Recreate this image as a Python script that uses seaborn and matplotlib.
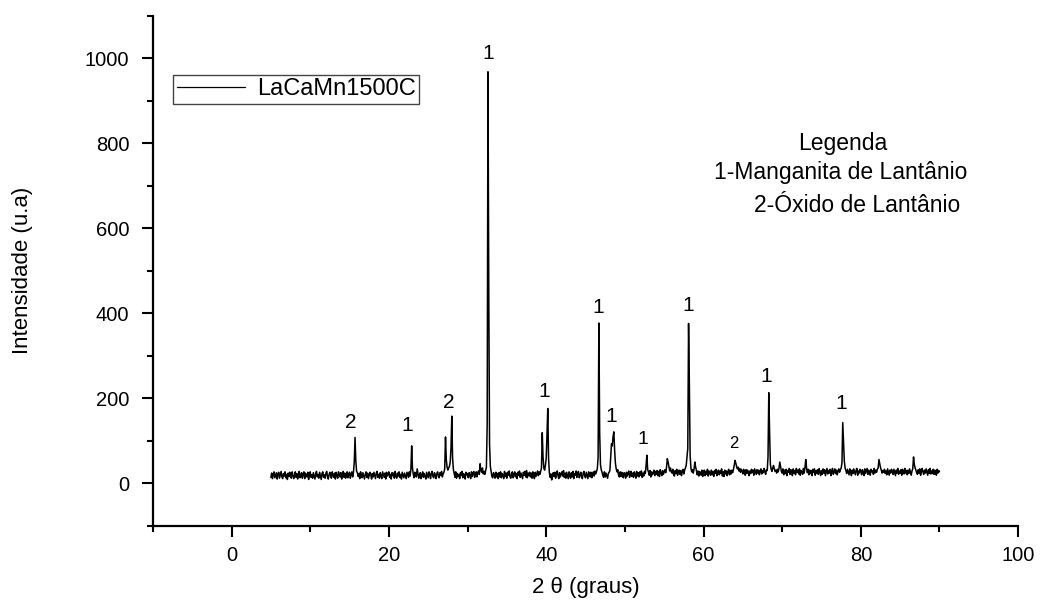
import numpy as np
import matplotlib
matplotlib.use("Agg")
import matplotlib.pyplot as plt
from matplotlib.ticker import MultipleLocator
import seaborn as sns

# --- XRD scan (2theta from 5 to 90 deg, step 0.1) ---
scan_start = 5.0
scan_step = 0.1
intensity = [
    14, 24, 11, 21, 27, 13, 19, 25, 10, 22,  # 5
    26, 12, 20, 28, 15, 11, 23, 17, 27, 13,  # 6
    21, 9, 24, 16, 26, 18, 12, 27, 20, 11,  # 7
    17, 27, 14, 23, 10, 20, 28, 13, 18, 25,  # 8
    12, 21, 27, 11, 24, 17, 15, 26, 9, 22,  # 9
    27, 14, 20, 12, 25, 18, 10, 23, 28, 15,  # 10
    21, 12, 26, 17, 9, 23, 27, 14, 20, 12,  # 11
    24, 28, 15, 10, 21, 26, 17, 12, 27, 19,  # 12
    14, 24, 10, 26, 18, 12, 27, 20, 15, 25,  # 13
    10, 21, 28, 14, 24, 12, 18, 27, 13, 22,  # 14
    26, 12, 21, 27, 15, 26, 50, 108, 52, 28,  # 15
    25, 16, 23, 11, 27, 19, 13, 25, 17, 10,  # 16
    21, 27, 14, 24, 11, 18, 26, 20, 10, 23,  # 17
    15, 26, 18, 11, 24, 28, 14, 21, 12, 25,  # 18
    17, 11, 27, 20, 14, 24, 10, 26, 17, 21,  # 19
    27, 14, 21, 10, 25, 18, 24, 12, 28, 16,  # 20
    12, 24, 17, 27, 14, 21, 10, 26, 19, 13,  # 21
    24, 17, 11, 26, 20, 14, 27, 17, 32, 88,  # 22
    36, 22, 13, 26, 18, 15, 34, 23, 12, 21,  # 23
    25, 11, 20, 27, 14, 23, 17, 10, 26, 19,  # 24
    13, 27, 20, 11, 24, 28, 16, 13, 25, 19,  # 25
    11, 23, 27, 16, 13, 25, 19, 28, 15, 22,  # 26
    26, 34, 109, 56, 38, 31, 36, 40, 50, 84,  # 27
    158, 60, 33, 24, 14, 27, 12, 23, 16, 21,  # 28
    11, 25, 18, 28, 13, 23, 17, 10, 26, 20,  # 29
    23, 13, 25, 19, 11, 27, 16, 24, 28, 14,  # 30
    20, 27, 15, 25, 29, 21, 46, 31, 26, 36,  # 31
    22, 28, 21, 30, 38, 140, 968, 452, 92, 40,  # 32
    28, 16, 13, 25, 20, 12, 26, 15, 23, 11,  # 33
    25, 15, 27, 13, 23, 19, 11, 28, 16, 24,  # 34
    12, 26, 19, 29, 15, 12, 23, 27, 13, 21,  # 35
    27, 15, 23, 11, 26, 19, 29, 14, 24, 17,  # 36
    11, 26, 19, 28, 15, 30, 13, 24, 18, 26,  # 37
    15, 24, 12, 27, 20, 11, 26, 16, 23, 29,  # 38
    18, 27, 21, 28, 36, 119, 62, 36, 31, 42,  # 39
    58, 112, 176, 60, 26, 14, 22, 8, 19, 25,  # 40
    16, 26, 12, 23, 29, 18, 11, 25, 15, 22,  # 41
    27, 17, 30, 14, 24, 12, 26, 19, 11, 27,  # 42
    18, 12, 25, 15, 28, 11, 23, 19, 29, 14,  # 43
    24, 28, 13, 19, 26, 15, 11, 24, 28, 17,  # 44
    13, 26, 19, 11, 27, 23, 15, 26, 13, 21,  # 45
    27, 17, 29, 22, 28, 34, 62, 377, 118, 44,  # 46
    32, 26, 19, 14, 27, 15, 24, 18, 12, 23,  # 47
    26, 30, 62, 93, 88, 110, 121, 78, 47, 34,  # 48
    27, 32, 19, 15, 27, 16, 26, 22, 13, 25,  # 49
    21, 12, 26, 17, 24, 29, 14, 22, 28, 16,  # 50
    24, 14, 27, 21, 12, 28, 17, 25, 15, 27,  # 51
    19, 29, 14, 24, 17, 28, 23, 42, 66, 32,  # 52
    27, 19, 30, 15, 27, 20, 24, 31, 18, 28,  # 53
    21, 30, 18, 28, 16, 32, 24, 18, 30, 21,  # 54
    27, 32, 25, 38, 58, 50, 40, 29, 36, 27,  # 55
    24, 33, 20, 17, 30, 23, 33, 19, 27, 31,  # 56
    21, 30, 18, 28, 33, 22, 31, 36, 42, 62,  # 57
    82, 376, 235, 64, 36, 27, 32, 24, 34, 50,  # 58
    38, 30, 20, 29, 17, 28, 24, 19, 31, 16,  # 59
    25, 31, 18, 28, 21, 33, 17, 29, 24, 19,  # 60
    31, 20, 27, 16, 30, 23, 33, 18, 27, 31,  # 61
    20, 29, 23, 34, 17, 27, 16, 31, 22, 29,  # 62
    18, 28, 33, 20, 30, 22, 31, 25, 32, 42,  # 63
    54, 48, 40, 34, 38, 29, 35, 26, 33, 28,  # 64
    22, 33, 27, 19, 32, 23, 31, 26, 18, 29,  # 65
    23, 33, 25, 31, 19, 34, 27, 21, 32, 24,  # 66
    31, 20, 28, 34, 22, 30, 25, 35, 27, 21,  # 67
    32, 30, 62, 213, 120, 44, 33, 28, 36, 42,  # 68
    34, 28, 31, 24, 33, 27, 36, 50, 39, 28,  # 69
    24, 34, 20, 31, 23, 33, 18, 30, 26, 35,  # 70
    21, 32, 27, 18, 34, 24, 30, 20, 35, 26,  # 71
    31, 22, 34, 19, 30, 27, 21, 35, 24, 38,  # 72
    56, 36, 25, 33, 20, 31, 23, 30, 18, 33,  # 73
    26, 34, 19, 30, 24, 32, 21, 35, 27, 18,  # 74
    30, 21, 34, 24, 32, 18, 27, 35, 22, 30,  # 75
    24, 33, 18, 29, 35, 21, 27, 34, 23, 31,  # 76
    20, 29, 34, 26, 32, 36, 48, 143, 100, 52,  # 77
    36, 30, 23, 33, 26, 20, 34, 28, 18, 31,  # 78
    23, 34, 27, 20, 31, 35, 19, 29, 24, 33,  # 79
    28, 20, 32, 26, 18, 34, 23, 29, 35, 21,  # 80
    31, 24, 19, 33, 27, 29, 21, 35, 24, 31,  # 81
    26, 33, 36, 56, 46, 37, 31, 24, 30, 26,  # 82
    33, 23, 29, 20, 34, 27, 19, 31, 24, 33,  # 83
    28, 21, 33, 26, 18, 31, 24, 35, 21, 29,  # 84
    24, 32, 19, 33, 27, 22, 35, 24, 30, 20,  # 85
    31, 23, 34, 27, 19, 29, 34, 62, 44, 36,  # 86
    31, 25, 21, 32, 24, 34, 19, 29, 35, 26,  # 87
    21, 31, 24, 34, 27, 19, 32, 23, 35, 22,  # 88
    29, 23, 33, 21, 31, 27, 19, 33, 24, 30,  # 89
    27,                                      # 90
]
two_theta = scan_start + scan_step * np.arange(len(intensity))

# peak labels: phase number, label x, label y (centre)
peak_labels = ["2", "1", "2", "1", "1", "1", "1", "1", "1", "2", "1", "1"]
label_x = [15.1, 22.3, 27.6, 32.6, 39.8, 46.6, 48.3, 52.3, 58.0, 63.9, 68.0, 77.5]
label_y = [143, 136, 189, 1011, 217, 413, 156, 103, 419, 93, 252, 187]
label_size = [15, 15, 15, 15, 15, 15, 15, 14, 15, 12, 15, 15]

legend_lines = ["Legenda", "1-Manganita de Lantânio", "2-Óxido de Lantânio"]
legend_x = [77.7, 77.5, 79.5]
legend_y = [799, 730, 653]

sns.set_style("ticks")
plt.rcParams["font.family"] = ["Liberation Sans", "DejaVu Sans"]
plt.rcParams.update({"text.color": "black", "axes.labelcolor": "black",
                     "xtick.color": "black", "ytick.color": "black"})

fig, ax = plt.subplots(figsize=(10.4, 6.03), dpi=100)
fig.subplots_adjust(left=0.147, right=0.979, top=0.974, bottom=0.128)

sns.lineplot(x=two_theta, y=intensity, ax=ax, color="black", linewidth=1.1,
             label="LaCaMn1500C")

for txt, lx, ly, fs in zip(peak_labels, label_x, label_y, label_size):
    ax.text(lx, ly, txt, ha="center", va="center", fontsize=fs)

for txt, lx, ly in zip(legend_lines, legend_x, legend_y):
    ax.text(lx, ly, txt, ha="center", va="center", fontsize=16.5)

# --- axes ---
ax.set_xlim(-10, 100)
ax.set_ylim(-100, 1100)
ax.xaxis.set_major_locator(MultipleLocator(20))
ax.xaxis.set_minor_locator(MultipleLocator(10))
ax.yaxis.set_major_locator(MultipleLocator(200))
ax.yaxis.set_minor_locator(MultipleLocator(100))
ax.tick_params(which="major", length=8, width=1.5, labelsize=14.5,
               color="black", labelcolor="black")
ax.tick_params(which="minor", length=4.5, width=1.5, color="black")
ax.tick_params(axis="y", which="major", pad=9.0)
ax.tick_params(axis="x", which="major", pad=6.5)
sns.despine(ax=ax)
for side in ["left", "bottom"]:
    ax.spines[side].set_linewidth(1.6)
    ax.spines[side].set_color("black")

ax.set_xlabel("2 θ (graus)", fontsize=16)
ax.set_ylabel("Intensidade (u.a)", fontsize=16)
ax.xaxis.set_label_coords(0.5, -0.100)
ax.yaxis.set_label_coords(-0.138, 0.5)

leg = ax.legend(loc="upper left", bbox_to_anchor=(0.0235, 0.884), borderaxespad=0,
                fontsize=17, handlelength=2.9, handletextpad=0.5, borderpad=0.15,
                fancybox=False, framealpha=1, edgecolor="#444444")
leg.get_frame().set_linewidth(1.0)
for line in leg.get_lines():
    line.set_linewidth(0.9)

fig.savefig("out.png", dpi=100)
